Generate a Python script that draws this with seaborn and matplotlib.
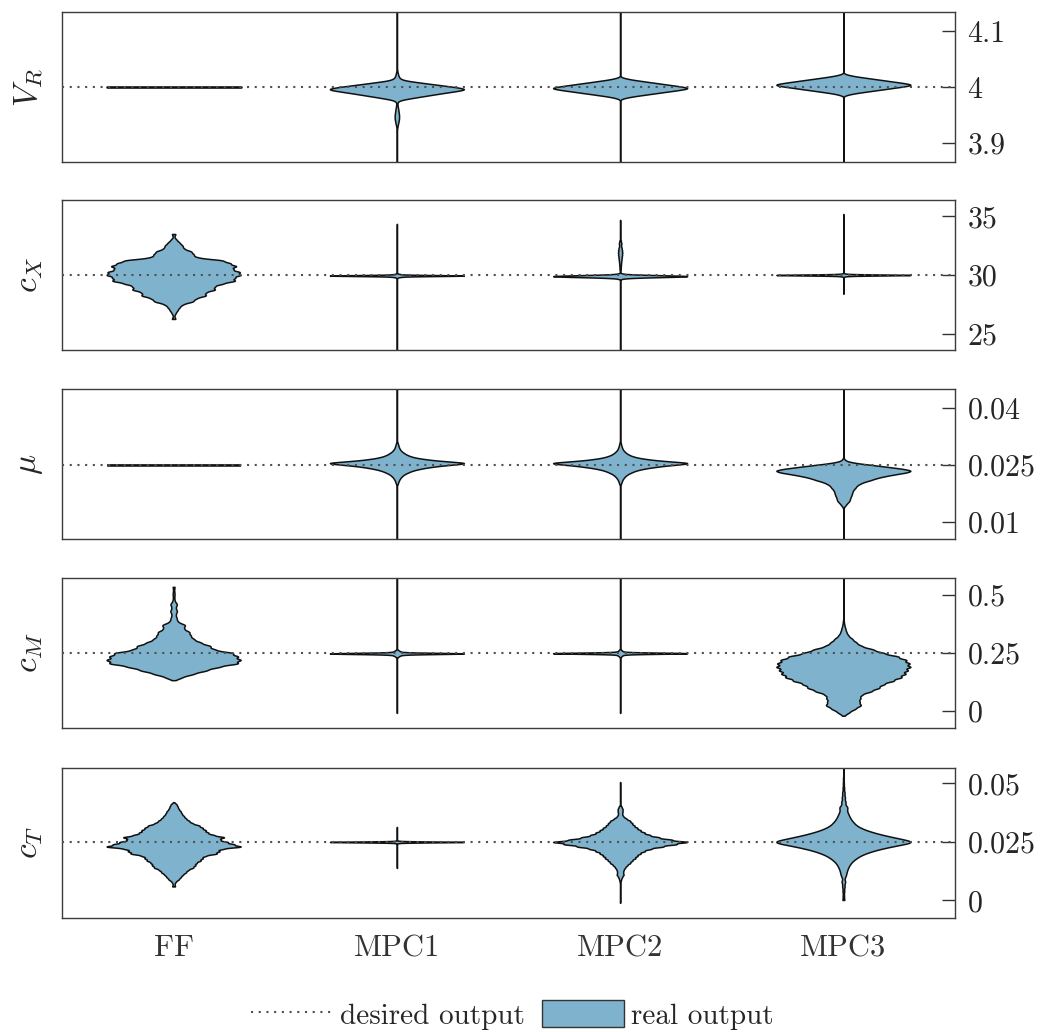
import numpy as np
import pandas as pd
import matplotlib
matplotlib.use("Agg")
import matplotlib.pyplot as plt
import seaborn as sns
from matplotlib.lines import Line2D
from matplotlib.patches import Patch

# ---------------- data ----------------
controllers = ["FF", "MPC1", "MPC2", "MPC3"]
outputs = ["V_R", "c_X", "mu", "c_M", "c_T"]
output_labels = [r"$V_R$", r"$c_X$", r"$\mu$", r"$c_M$", r"$c_T$"]
desired_values = [4.0, 30.0, 0.025, 0.25, 0.025]
y_limits = [(3.865, 4.135), (23.6, 36.4), (0.0055, 0.0450), (-0.073, 0.573), (-0.0075, 0.0566)]
ytick_values = [[3.9, 4.0, 4.1], [25, 30, 35], [0.01, 0.025, 0.04], [0, 0.25, 0.5], [0, 0.025, 0.05]]
ytick_labels = [["3.9", "4", "4.1"], ["25", "30", "35"], ["0.01", "0.025", "0.04"],
                ["0", "0.25", "0.5"], ["0", "0.025", "0.05"]]
legend_labels = ["desired output", "real output"]

# observed samples: value -> number of observations
VR_FF_values = [4.0]
VR_FF_counts = [200]
VR_MPC1_values = [3.850, 3.924, 3.928, 3.932, 3.936, 3.940, 3.944, 3.948, 3.952, 3.956, 3.960,
                  3.964, 3.968, 3.972, 3.976, 3.980, 3.984, 3.988, 3.992, 3.996, 4.000, 4.004,
                  4.008, 4.012, 4.016, 4.020, 4.024, 4.028, 4.032, 4.150]
VR_MPC1_counts = [1, 2, 5, 9, 14, 18, 21, 21, 19, 16, 13, 9, 6, 4, 20, 140, 270, 400, 540, 680,
                  550, 380, 220, 60, 25, 15, 10, 5, 2, 1]
VR_MPC2_values = [3.850, 3.982, 3.986, 3.990, 3.994, 3.998, 4.002, 4.006, 4.010, 4.014, 4.150]
VR_MPC2_counts = [1, 80, 230, 380, 530, 680, 530, 380, 230, 80, 1]
VR_MPC3_values = [3.850, 3.988, 3.992, 3.996, 4.000, 4.004, 4.008, 4.012, 4.016, 4.020, 4.150]
VR_MPC3_counts = [1, 80, 230, 380, 530, 680, 530, 380, 230, 80, 1]

CX_FF_values = [26.25, 26.50, 26.75, 27.00, 27.25, 27.50, 27.75, 28.00, 28.25, 28.50, 28.75,
                29.00, 29.25, 29.50, 29.75, 30.00, 30.25, 30.50, 30.75, 31.00, 31.25, 31.50,
                31.75, 32.00, 32.25, 32.50, 32.75, 33.00, 33.25, 33.50]
CX_FF_counts = [20, 5, 20, 40, 60, 90, 200, 220, 330, 310, 420, 400, 480, 620, 600, 670, 660,
                580, 630, 560, 500, 220, 200, 180, 100, 90, 60, 30, 5, 20]
CX_MPC1_values = [23.0, 29.75, 29.85, 29.95, 30.05, 30.15, 34.36]
CX_MPC1_counts = [1, 5, 40, 680, 40, 5, 1]
CX_MPC2_values = [23.0, 29.7, 29.8, 29.9, 30.0, 30.1, 30.3, 30.5, 30.7, 30.9, 31.1, 31.3, 31.5,
                  31.7, 31.9, 32.1, 32.3, 32.5, 32.7, 32.9, 34.7]
CX_MPC2_counts = [1, 5, 40, 680, 40, 5, 3, 6, 7, 9, 11, 14, 17, 20, 22, 20, 16, 10, 13, 8, 1]
CX_MPC3_values = [28.4, 29.9, 30.0, 30.1, 35.2]
CX_MPC3_counts = [1, 20, 680, 20, 1]

MU_FF_values = [0.025]
MU_FF_counts = [200]
MU_MPC1_values = [0.0030, 0.0200, 0.0205, 0.0210, 0.0215, 0.0220, 0.0225, 0.0230, 0.0235, 0.0240,
                  0.0245, 0.0250, 0.0255, 0.0260, 0.0265, 0.0270, 0.0275, 0.0280, 0.0285, 0.0290,
                  0.0295, 0.0300, 0.0305, 0.0310, 0.0470]
MU_MPC1_counts = [1, 8, 13, 20, 30, 45, 65, 100, 140, 210, 310, 460, 680, 410, 250, 150, 100, 70,
                  45, 30, 20, 15, 10, 5, 1]
MU_MPC2_values = [0.0030, 0.0200, 0.0205, 0.0210, 0.0215, 0.0220, 0.0225, 0.0230, 0.0235, 0.0240,
                  0.0245, 0.0250, 0.0255, 0.0260, 0.0265, 0.0270, 0.0275, 0.0280, 0.0285, 0.0290,
                  0.0295, 0.0300, 0.0305, 0.0310, 0.0470]
MU_MPC2_counts = [1, 8, 13, 20, 30, 45, 65, 100, 140, 210, 320, 470, 680, 400, 240, 140, 90, 60,
                  40, 25, 18, 12, 8, 4, 1]
MU_MPC3_values = [0.0030, 0.0140, 0.0145, 0.0150, 0.0155, 0.0160, 0.0165, 0.0170, 0.0175, 0.0180,
                  0.0185, 0.0190, 0.0195, 0.0200, 0.0205, 0.0210, 0.0215, 0.0220, 0.0225, 0.0230,
                  0.0235, 0.0240, 0.0245, 0.0250, 0.0255, 0.0260, 0.0265, 0.0470]
MU_MPC3_counts = [1, 10, 25, 40, 60, 65, 70, 80, 85, 90, 100, 120, 130, 160, 200, 270, 320, 400,
                  500, 620, 680, 580, 430, 280, 120, 30, 10, 1]

CM_FF_values = [0.133, 0.145, 0.160, 0.175, 0.190, 0.205, 0.220, 0.235, 0.250, 0.265, 0.280,
                0.295, 0.310, 0.325, 0.340, 0.355, 0.370, 0.385, 0.400, 0.415, 0.430, 0.445,
                0.460, 0.475, 0.490, 0.505, 0.520, 0.535]
CM_FF_counts = [5, 80, 200, 330, 450, 650, 670, 640, 600, 400, 370, 270, 200, 170, 160, 100, 120,
                40, 30, 20, 35, 20, 35, 10, 7, 10, 5, 10]
CM_MPC1_values = [-0.008, 0.233, 0.238, 0.243, 0.248, 0.253, 0.258, 0.263, 0.600]
CM_MPC1_counts = [1, 10, 25, 45, 680, 45, 25, 10, 1]
CM_MPC2_values = [-0.008, 0.234, 0.239, 0.244, 0.249, 0.254, 0.259, 0.264, 0.600]
CM_MPC2_counts = [1, 8, 18, 35, 680, 35, 18, 8, 1]
CM_MPC3_values = [-0.020, -0.005, 0.010, 0.025, 0.040, 0.055, 0.070, 0.085, 0.100, 0.115, 0.130,
                  0.145, 0.160, 0.175, 0.190, 0.205, 0.220, 0.235, 0.250, 0.265, 0.280, 0.295,
                  0.310, 0.325, 0.340, 0.355, 0.370, 0.385, 0.600]
CM_MPC3_counts = [10, 60, 120, 180, 160, 170, 180, 280, 360, 400, 500, 580, 620, 640, 670, 660,
                  630, 550, 400, 300, 180, 130, 90, 50, 30, 20, 10, 5, 1]

CT_FF_values = [0.006, 0.007, 0.008, 0.009, 0.010, 0.011, 0.012, 0.013, 0.014, 0.015, 0.016,
                0.017, 0.018, 0.019, 0.020, 0.021, 0.022, 0.023, 0.024, 0.025, 0.026, 0.027,
                0.028, 0.029, 0.030, 0.031, 0.032, 0.033, 0.034, 0.035, 0.036, 0.037, 0.038,
                0.039, 0.040, 0.041, 0.042]
CT_FF_counts = [15, 8, 20, 50, 70, 90, 120, 140, 190, 210, 220, 260, 280, 300, 420, 440, 460, 670,
                580, 520, 440, 500, 380, 330, 310, 280, 250, 180, 150, 120, 100, 80, 70, 50, 40,
                30, 5]
CT_MPC1_values = [0.0139, 0.0245, 0.0250, 0.0255, 0.0314]
CT_MPC1_counts = [1, 10, 680, 10, 1]
CT_MPC2_values = [-0.001, 0.008, 0.009, 0.010, 0.011, 0.012, 0.013, 0.014, 0.015, 0.016, 0.017,
                  0.018, 0.019, 0.020, 0.021, 0.022, 0.023, 0.024, 0.025, 0.026, 0.027, 0.028,
                  0.029, 0.030, 0.031, 0.032, 0.033, 0.034, 0.035, 0.036, 0.037, 0.038, 0.039,
                  0.040, 0.0506]
CT_MPC2_counts = [1, 5, 10, 20, 35, 30, 35, 50, 70, 100, 120, 150, 170, 200, 240, 300, 420, 550,
                  680, 500, 380, 290, 240, 200, 170, 140, 120, 100, 60, 30, 20, 25, 25, 15, 1]
CT_MPC3_values = [0.0002, 0.002, 0.004, 0.006, 0.008, 0.010, 0.011, 0.012, 0.013, 0.014, 0.015,
                  0.016, 0.017, 0.018, 0.019, 0.020, 0.021, 0.022, 0.023, 0.024, 0.025, 0.026,
                  0.027, 0.028, 0.029, 0.030, 0.031, 0.032, 0.033, 0.034, 0.035, 0.036, 0.037,
                  0.038, 0.039, 0.040, 0.042, 0.044, 0.046, 0.048, 0.050, 0.052, 0.060]
CT_MPC3_counts = [15, 10, 14, 20, 30, 20, 25, 30, 35, 45, 55, 70, 90, 120, 150, 200, 260, 340,
                  440, 550, 680, 560, 460, 360, 280, 210, 160, 120, 100, 80, 65, 55, 45, 35, 30,
                  50, 36, 26, 20, 12, 8, 6, 1]

samples = {
    "V_R": [(VR_FF_values, VR_FF_counts), (VR_MPC1_values, VR_MPC1_counts),
            (VR_MPC2_values, VR_MPC2_counts), (VR_MPC3_values, VR_MPC3_counts)],
    "c_X": [(CX_FF_values, CX_FF_counts), (CX_MPC1_values, CX_MPC1_counts),
            (CX_MPC2_values, CX_MPC2_counts), (CX_MPC3_values, CX_MPC3_counts)],
    "mu": [(MU_FF_values, MU_FF_counts), (MU_MPC1_values, MU_MPC1_counts),
           (MU_MPC2_values, MU_MPC2_counts), (MU_MPC3_values, MU_MPC3_counts)],
    "c_M": [(CM_FF_values, CM_FF_counts), (CM_MPC1_values, CM_MPC1_counts),
            (CM_MPC2_values, CM_MPC2_counts), (CM_MPC3_values, CM_MPC3_counts)],
    "c_T": [(CT_FF_values, CT_FF_counts), (CT_MPC1_values, CT_MPC1_counts),
            (CT_MPC2_values, CT_MPC2_counts), (CT_MPC3_values, CT_MPC3_counts)],
}

# ---------------- style ----------------
# KDE kernel widths (data units), per panel and controller
kde_bandwidth = {
    "V_R": [0.0025, 0.0025, 0.0025, 0.0025],
    "c_X": [0.125, 0.04, 0.08, 0.04],
    "mu": [0.0003, 0.0003, 0.0003, 0.0003],
    "c_M": [0.0072, 0.0025, 0.0025, 0.0072],
    "c_T": [0.00048, 0.00018, 0.00045, 0.00078],
}
FILL = "#7FB3CD"
EDGE = "#111111"
DOT = "#505050"
DOTSTYLE = (0, (1, 2.7))

sns.set_style("white")
plt.rcParams["font.family"] = ["cmr10"]
plt.rcParams["mathtext.fontset"] = "cm"
plt.rcParams["axes.unicode_minus"] = False

W, H = 1041, 1032
fig = plt.figure(figsize=(W / 100, H / 100), dpi=100)
left_px, right_px = 62, 955
tops_px = [12, 200, 389, 578, 768]
height_px = 150

for i, name in enumerate(outputs):
    ax = fig.add_axes([left_px / W, 1 - (tops_px[i] + height_px) / H,
                       (right_px - left_px) / W, height_px / H])
    for j, ctrl in enumerate(controllers):
        vals, cnts = samples[name][j]
        if len(vals) != len(cnts):
            raise ValueError(f"length mismatch {name} {ctrl}")
        obs = np.repeat(np.asarray(vals, float), np.asarray(cnts, int))
        frame = pd.DataFrame({"controller": ctrl, "value": obs})
        spread = obs.std()
        bw = kde_bandwidth[name][j] / spread if spread > 0 else "scott"
        lw = 1.1 if spread > 0 else 1.9
        sns.violinplot(data=frame, x="controller", y="value", order=controllers, ax=ax,
                       color=FILL, saturation=1, inner=None, cut=0, width=0.6,
                       density_norm="width", bw_method=bw, gridsize=1500,
                       linewidth=lw, linecolor=EDGE)
    ax.axhline(desired_values[i], color=DOT, linestyle=DOTSTYLE, linewidth=1.5, zorder=5)
    ax.set_xlim(-0.5, len(controllers) - 0.5)
    ax.set_ylim(*y_limits[i])
    ax.yaxis.tick_right()
    ax.yaxis.set_label_position("left")
    ax.set_yticks(ytick_values[i])
    ax.set_yticklabels(ytick_labels[i])
    ax.tick_params(axis="y", direction="in", length=9.5, width=1.0, pad=9,
                   labelsize=21.5, left=False, right=True, labelleft=False, labelright=True,
                   color="#333333")
    ax.tick_params(axis="x", length=0, pad=12, labelsize=22, labelcolor="#333333",
                   labelbottom=(i == len(outputs) - 1))
    ax.set_xlabel("")
    ax.set_ylabel(output_labels[i], fontsize=24, labelpad=12)
    for sp in ax.spines.values():
        sp.set_visible(True)
        sp.set_color("#3c3c3c")
        sp.set_linewidth(1.0)

handles = [Line2D([], [], color=DOT, linestyle=DOTSTYLE, linewidth=1.5),
           Patch(facecolor=FILL, edgecolor="#333333", linewidth=1.0)]
fig.legend(handles=handles, labels=legend_labels, loc="center",
           bbox_to_anchor=(0.492, 1 - 1015 / H), ncol=2, frameon=False, fontsize=21,
           handlelength=2.8, handleheight=1.0, handletextpad=0.25, columnspacing=0.6)

fig.savefig("out.png", dpi=100)
